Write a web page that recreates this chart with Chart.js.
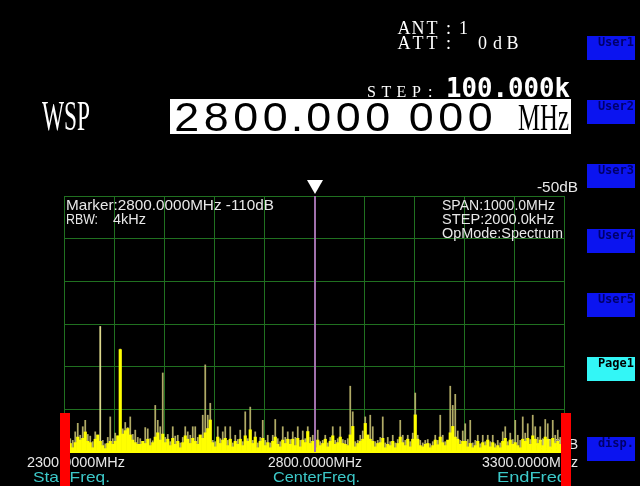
<!DOCTYPE html>
<html>
<head>
<meta charset="utf-8">
<script src="https://cdn.jsdelivr.net/npm/chart.js@4"></script>
<style>
  html, body { margin: 0; padding: 0; background: #000; overflow: hidden; }
  canvas { display: block; }
</style>
</head>
<body>
<canvas id="c" width="640" height="486"></canvas>
<script>
// Sweep settings
const startFreq = 2300;      // MHz
const endFreq = 3300;        // MHz
const binWidth = 5;          // MHz per displayed bin
const markerFreq = 2800;     // MHz
const refLevel = -50;        // dB, top of screen
const floorLevel = -110;     // dB, bottom of screen
const freqTicks = [2300, 2800, 3300];

// Peak-hold trace, dB per bin
const peakDb = [
  -106.5, -107.5, -106.8, -107.2, -105.2, -103.2, -106, -104, -102.5, -105.8,
  -106.2, -107.5, -105.2, -106, -80.5, -107.2, -108, -106.5, -101.7, -106.8,
  -105.5, -106.2, -85.8, -104.5, -103, -104.2, -101.7, -105.8, -104.8, -106.5,
  -106.8, -107.5, -104.2, -104.5, -106.8, -107.3, -99, -102.5, -104, -91.4,
  -106.5, -105.8, -107.5, -104, -106.2, -106, -107.8, -106.5, -104, -105.2,
  -106, -104, -104, -106.5, -107, -101.3, -89.5, -101.3, -98.5, -107.2,
  -107.5, -104, -106.8, -105.2, -104, -107.2, -104, -107.8, -106, -107,
  -104.8, -107.5, -100.5, -106.8, -99.4, -107.2, -105.2, -107.8, -106.5, -102.5,
  -107.2, -106, -107.8, -106, -102.3, -106.8, -107.5, -104, -106.5, -105.2,
  -107, -105.2, -106.5, -104, -107.2, -105, -106.8, -104, -106.5, -106,
  -108, -104.8, -107.5, -107.2, -106, -107.8, -106.5, -104, -107.2, -106.8,
  -104, -107, -107.2, -106.8, -94.5, -100.5, -107.5, -107.2, -106, -105,
  -101.7, -106, -101.3, -104, -107.5, -107.2, -106.5, -101.7, -107.8, -106.5,
  -107.5, -106, -107.8, -107, -102.5, -106, -107.2, -106, -107.5, -105.5,
  -96.1, -106, -107.2, -107.8, -107.2, -107, -108, -107.5, -106, -107.2,
  -101.3, -106, -107.5, -107.2, -94.5, -99, -96.4, -105, -107.2, -105,
  -103.3, -107, -102.5, -107.8, -107.2, -106, -108, -106, -107.5, -106,
  -107.5, -106, -108, -107.2, -107.8, -105.2, -104, -107.5, -105.5, -107,
  -102.5, -106, -107.2, -101.7, -105.5, -103.3, -107, -101.3, -104, -106.5,
  -104, -106.8, -102.3, -103.3, -107, -102.5, -106, -104.8, -106.5, -107
];

// Live sweep trace, dB per bin
const sweepDb = [
  -107.5, -108.8, -108, -109, -107.8, -106.5, -107.2, -106.8, -105.3, -107.5,
  -107.8, -109, -107, -106, -107.5, -108.5, -109.2, -108, -107.5, -108.2,
  -107.5, -106.2, -86, -105.8, -105, -104.5, -106, -107.2, -107.8, -108.2,
  -108.2, -107.5, -108, -107, -108.5, -107.8, -106.5, -105.5, -107.2, -105.8,
  -107.8, -107, -108.5, -106.8, -108.2, -107.5, -109, -107.8, -106.2, -107,
  -108, -106.8, -107.5, -108.2, -106, -106.8, -105.5, -104.5, -102.5, -107.8,
  -108.8, -106.5, -108, -107.2, -106.8, -108.5, -107, -108.8, -107.5, -108.2,
  -107, -108.5, -106.2, -107.5, -104.8, -108, -106.5, -109, -107.5, -106.8,
  -108.5, -107.8, -109, -107.5, -106.5, -108.2, -108.8, -107.2, -108, -107,
  -108.2, -107, -108.5, -106.8, -108.8, -107.2, -107.8, -105.2, -108, -107.5,
  -109, -107.2, -108.5, -108, -107, -108.8, -107.5, -106.2, -108.2, -107.8,
  -106.5, -108, -108.2, -108.5, -106, -104, -108.8, -108, -107.5, -107,
  -103.3, -106, -107, -107.5, -108.8, -108, -107.8, -106.8, -109, -108.2,
  -108.5, -107.5, -109, -108, -106.5, -107.8, -108.5, -107, -108.8, -107,
  -101.3, -107, -108.5, -108.8, -108.2, -108, -109, -108.5, -107.2, -108.3,
  -106.5, -107.8, -108.5, -107.2, -105.5, -104, -106.5, -107, -108.2, -107.5,
  -107.5, -108.8, -108, -109, -108.5, -107.5, -109, -107.8, -108.5, -107.2,
  -108.8, -107.8, -109, -108.5, -109, -107.5, -106.8, -108.5, -107.2, -108.2,
  -107.8, -108.5, -109, -107, -107.5, -106.8, -108.2, -106.2, -107, -108,
  -107.2, -108.5, -106.5, -107, -108.8, -106.8, -108, -107.5, -108.2, -108.5
];

const binFreqs = peakDb.map((_, i) => startFreq + binWidth * (i + 0.5));

const GRID = 'rgb(32,112,32)';
const SANS = '"Liberation Sans", Arial, sans-serif';
const SERIF = '"Liberation Serif", "DejaVu Serif", serif';
const MONO = '"DejaVu Sans Mono", "Liberation Mono", monospace';

function fitText(c, s, x, y, font, color, width) {
  c.save();
  c.font = font;
  c.fillStyle = color;
  c.textAlign = 'left';
  c.textBaseline = 'alphabetic';
  const w = c.measureText(s).width;
  c.translate(x, y);
  if (width) c.scale(width / w, 1);
  c.fillText(s, 0, 0);
  c.restore();
}

function spacedText(c, s, x, y, font, color, pitch, sx) {
  c.save();
  c.font = font;
  c.fillStyle = color;
  c.textAlign = 'center';
  c.textBaseline = 'alphabetic';
  for (let i = 0; i < s.length; i++) {
    c.save();
    c.translate(x + pitch * i + pitch / 2, y);
    if (sx) c.scale(sx, 1);
    c.fillText(s[i], 0, 0);
    c.restore();
  }
  c.restore();
}

function softKey(c, label, top, fill, ink) {
  c.fillStyle = fill;
  c.fillRect(587, top, 48, 24);
  c.save();
  c.font = 'bold 12px ' + MONO;
  c.fillStyle = ink;
  c.textAlign = 'right';
  c.textBaseline = 'alphabetic';
  c.fillText(label, 634, top + 10);
  c.restore();
}

const screenPlugin = {
  id: 'screen',
  beforeDraw(chart) {
    const c = chart.ctx;
    c.save();
    c.fillStyle = '#000';
    c.fillRect(0, 0, chart.width, chart.height);
    c.restore();
  },
  beforeDatasetsDraw(chart) {
    const c = chart.ctx;
    fitText(c, floorLevel + 'dB', 535, 449, '15px ' + SANS, '#e8e8e8', 43);
  },
  afterDatasetsDraw(chart) {
    const c = chart.ctx;
    const a = chart.chartArea;
    const xs = chart.scales.x;
    c.save();
    // sweep floor line
    c.fillStyle = '#ffff00';
    c.fillRect(a.left, a.bottom - 1, a.right - a.left + 1, 2);
    // marker line and pointer
    const mx = Math.round(xs.getPixelForValue(markerFreq));
    c.fillStyle = '#a070ac';
    c.fillRect(mx, a.top, 2, a.bottom - a.top);
    c.fillStyle = '#ffffff';
    c.beginPath();
    c.moveTo(mx - 7, 180);
    c.lineTo(mx + 9, 180);
    c.lineTo(mx + 1, 194);
    c.closePath();
    c.fill();
    c.restore();
  },
  afterDraw(chart) {
    const c = chart.ctx;
    const W = '#ffffff';
    const T = '#e8e8e8';
    const CY = '#3cc8c8';

    // receiver status
    spacedText(c, 'ANT', 397, 34, '18px ' + SERIF, W, 14);
    fitText(c, ':', 446, 34, '18px ' + SERIF, W);
    fitText(c, '1', 459, 34, '18px ' + SERIF, W);
    spacedText(c, 'ATT', 397, 49, '18px ' + SERIF, W, 14);
    fitText(c, ':', 446, 49, '18px ' + SERIF, W);
    spacedText(c, '0dB', 475, 49, '18px ' + SERIF, W, 15);

    spacedText(c, 'STEP', 364, 97, '16px ' + SERIF, W, 15);
    fitText(c, ':', 428, 97, '16px ' + SERIF, W);
    fitText(c, '100.000k', 446, 97, 'bold 26px ' + MONO, W, 124);

    fitText(c, 'WSP', 42, 130, '42px ' + SERIF, W, 48);

    // frequency readout
    c.fillStyle = '#ffffff';
    c.fillRect(170, 99, 401, 35);
    const digits = '2800.000 000';
    let x = 172;
    c.save();
    c.font = '40px ' + SANS;
    c.fillStyle = '#000';
    c.textAlign = 'center';
    for (const ch of digits) {
      const cell = (ch === '.' || ch === ' ') ? 14 : 29.5;
      c.save();
      c.translate(x + cell / 2, 131);
      c.scale(1.12, 1);
      c.fillText(ch, 0, 0);
      c.restore();
      x += cell;
    }
    c.restore();
    fitText(c, 'MHz', 518, 130, '38px ' + SERIF, '#000', 51);

    // plot annotations
    fitText(c, 'Marker:2800.0000MHz -110dB', 66, 210, '15px ' + SANS, T, 208);
    fitText(c, 'RBW:', 66, 224, '15px ' + SANS, T, 32);
    fitText(c, '4kHz', 113, 224, '15px ' + SANS, T, 33);
    fitText(c, 'SPAN:1000.0MHz', 442, 210, '15px ' + SANS, T, 113);
    fitText(c, 'STEP:2000.0kHz', 442, 224, '15px ' + SANS, T, 112);
    fitText(c, 'OpMode:Spectrum', 442, 238, '15px ' + SANS, T, 121);
    fitText(c, refLevel + 'dB', 537, 192, '15px ' + SANS, T, 41);

    // frequency axis labels
    const labelX = [27, 268, 482];
    const labelW = [98, 94, 96];
    freqTicks.forEach((f, i) => {
      fitText(c, f.toFixed(4) + 'MHz', labelX[i], 467, '15px ' + SANS, T, labelW[i]);
    });
    fitText(c, 'StartFreq.', 33, 482, '15px ' + SANS, CY, 77);
    fitText(c, 'CenterFreq.', 273, 482, '15px ' + SANS, CY, 87);
    fitText(c, 'EndFreq.', 497, 482, '15px ' + SANS, CY, 75);

    // span edge markers
    c.fillStyle = '#ff0000';
    c.fillRect(60, 413, 10, 73);
    c.fillRect(561, 413, 10, 73);

    // soft keys
    const BLUE = '#0b14f0';
    const NAVY = '#00006a';
    softKey(c, 'User1', 36, BLUE, NAVY);
    softKey(c, 'User2', 100, BLUE, NAVY);
    softKey(c, 'User3', 164, BLUE, NAVY);
    softKey(c, 'User4', 229, BLUE, NAVY);
    softKey(c, 'User5', 293, BLUE, NAVY);
    softKey(c, 'Page1', 357, '#33f6f6', '#000');
    softKey(c, 'disp.', 437, BLUE, NAVY);
  }
};

new Chart(document.getElementById('c'), {
  type: 'bar',
  data: {
    datasets: [
      {
        label: 'Sweep',
        data: binFreqs.map((f, i) => ({ x: f, y: sweepDb[i] })),
        backgroundColor: '#ffff00',
        base: floorLevel,
        grouped: false,
        barPercentage: 1,
        categoryPercentage: 1,
        order: 0
      },
      {
        label: 'Peak hold',
        data: binFreqs.map((f, i) => ({ x: f, y: peakDb[i] })),
        backgroundColor: (ctx) => (ctx.raw && ctx.raw.y > -85 ? '#dcd88c' : '#b0aa66'),
        base: floorLevel,
        grouped: false,
        barPercentage: 0.7,
        categoryPercentage: 1,
        order: 1
      }
    ]
  },
  options: {
    responsive: false,
    animation: false,
    devicePixelRatio: 1,
    layout: { padding: { left: 64, right: 76, top: 196, bottom: 34 } },
    plugins: { legend: { display: false }, tooltip: { enabled: false } },
    scales: {
      x: {
        type: 'linear',
        min: startFreq,
        max: endFreq,
        offset: false,
        ticks: { stepSize: 100, display: false },
        grid: { color: GRID, drawTicks: false, offset: false },
        border: { display: false }
      },
      y: {
        min: floorLevel,
        max: refLevel,
        beginAtZero: false,
        ticks: { stepSize: 10, display: false },
        grid: { color: GRID, drawTicks: false },
        border: { display: false }
      }
    }
  },
  plugins: [screenPlugin]
});
</script>
</body>
</html>
